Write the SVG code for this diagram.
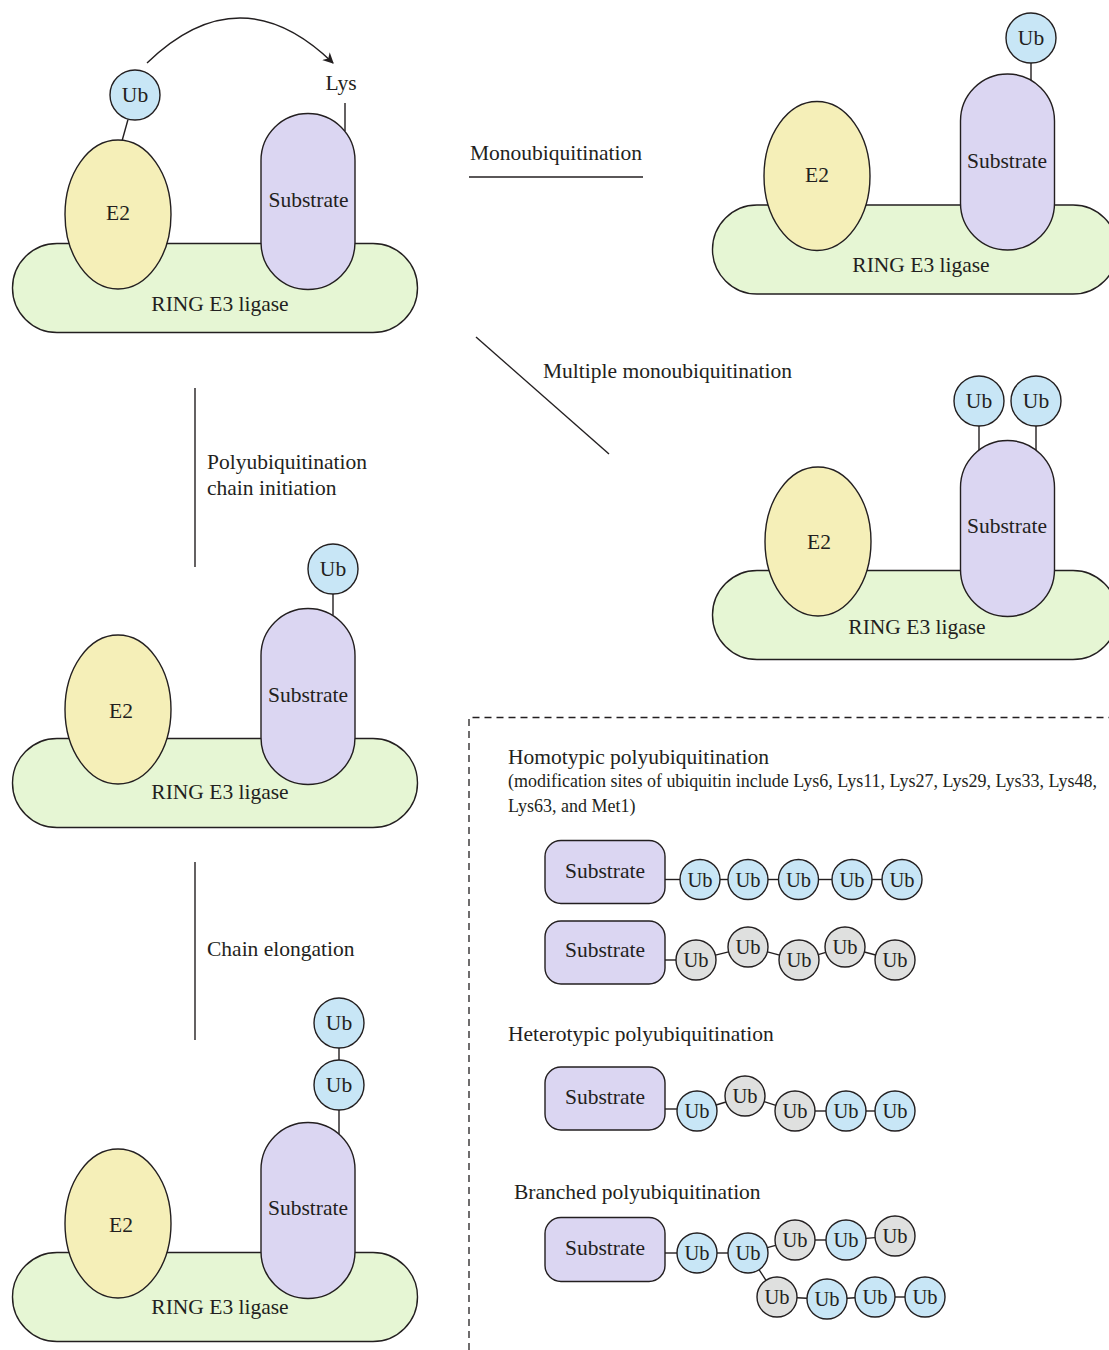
<svg xmlns="http://www.w3.org/2000/svg" width="1109" height="1350" viewBox="0 0 1109 1350">
<defs>
<style>
text{font-family:"Liberation Serif","Times New Roman",serif;fill:#231f20;}
.t{font-size:21.5px;}
.c{text-anchor:middle;}
.ring{fill:#e6f6d4;stroke:#231f20;stroke-width:1.4;}
.e2{fill:#f5efb8;stroke:#231f20;stroke-width:1.4;}
.sub{fill:#dbd6f2;stroke:#231f20;stroke-width:1.4;}
.ub{fill:#c8e6f6;stroke:#231f20;stroke-width:1.4;}
.ug{fill:#dfe0df;stroke:#231f20;stroke-width:1.4;}
.ln{stroke:#231f20;stroke-width:1.4;fill:none;}
.ut{font-size:20.5px;text-anchor:middle;}
</style>
<marker id="ah" viewBox="0 0 10 10" refX="9" refY="5" markerWidth="11" markerHeight="11" orient="auto" markerUnits="userSpaceOnUse">
<path d="M0,0 L10,5 L0,10 L3,5 Z" fill="#231f20"/>
</marker>
<g id="ringShape"><rect x="12.5" y="243.5" width="405" height="89" rx="44.5" class="ring"/></g>
<g id="e2Shape"><ellipse cx="118" cy="214.5" rx="53" ry="74.5" class="e2"/></g>
<g id="subShape"><rect x="261" y="113.5" width="94" height="176" rx="47" class="sub"/></g>
</defs>
<rect width="1109" height="1350" fill="#ffffff"/>

<!-- connectors -->
<g id="connectors">
<path class="ln" d="M147,63 Q240,-27 333,63" marker-end="url(#ah)"/>
<line class="ln" x1="128" y1="119.5" x2="122" y2="141"/>
<line class="ln" x1="345" y1="103" x2="345" y2="131"/>
<line class="ln" x1="1031" y1="63" x2="1031" y2="80"/>
<line class="ln" x1="979" y1="426" x2="979" y2="450"/>
<line class="ln" x1="1036" y1="426" x2="1036" y2="450"/>
<line class="ln" x1="333" y1="594" x2="333" y2="615"/>
<line class="ln" x1="339" y1="1048" x2="339" y2="1060"/>
<line class="ln" x1="339" y1="1110" x2="339" y2="1134"/>
<line class="ln" x1="469" y1="177" x2="643" y2="177"/>
<line class="ln" x1="476" y1="337" x2="609" y2="454"/>
<line class="ln" x1="195" y1="388" x2="195" y2="567"/>
<line class="ln" x1="195" y1="862" x2="195" y2="1040"/>
<!-- row 1 -->
<line class="ln" x1="665" y1="879.5" x2="680" y2="879.5"/>
<line class="ln" x1="720" y1="879.5" x2="728" y2="879.5"/>
<line class="ln" x1="768" y1="879.5" x2="778.5" y2="879.5"/>
<line class="ln" x1="818.5" y1="879.5" x2="832" y2="879.5"/>
<line class="ln" x1="872" y1="879.5" x2="882" y2="879.5"/>
<!-- row 2 -->
<line class="ln" x1="665" y1="960" x2="676" y2="960"/>
<line class="ln" x1="715.4" y1="955.1" x2="728.6" y2="951.9"/>
<line class="ln" x1="767.4" y1="951.9" x2="779.6" y2="955.1"/>
<line class="ln" x1="818.2" y1="954.6" x2="825.8" y2="952.4"/>
<line class="ln" x1="864.3" y1="952" x2="875.7" y2="955"/>
<!-- row 3 -->
<line class="ln" x1="665" y1="1109" x2="677" y2="1109"/>
<line class="ln" x1="716.1" y1="1105" x2="725.9" y2="1102"/>
<line class="ln" x1="764.2" y1="1101.7" x2="775.8" y2="1105.3"/>
<line class="ln" x1="815" y1="1111" x2="826" y2="1111"/>
<line class="ln" x1="866" y1="1111" x2="875" y2="1111"/>
<!-- row 4 -->
<line class="ln" x1="665" y1="1253" x2="677" y2="1253"/>
<line class="ln" x1="717" y1="1253" x2="728" y2="1253"/>
<line class="ln" x1="767.3" y1="1247.7" x2="775.7" y2="1245.3"/>
<line class="ln" x1="815" y1="1240" x2="826" y2="1240"/>
<line class="ln" x1="865.9" y1="1238.4" x2="875.1" y2="1237.6"/>
<line class="ln" x1="759" y1="1269.7" x2="766" y2="1280.3"/>
<line class="ln" x1="797" y1="1297.8" x2="807" y2="1298.2"/>
<line class="ln" x1="847" y1="1298.2" x2="855" y2="1297.8"/>
<line class="ln" x1="895" y1="1297" x2="905" y2="1297"/>
</g>

<!-- complex 1: top-left -->
<g id="ring1"><use href="#ringShape"/><text class="t c" x="220" y="311">RING E3 ligase</text></g>
<g id="e2-1"><use href="#e2Shape"/><text class="t c" x="118" y="220">E2</text></g>
<g id="sub1"><use href="#subShape"/><text class="t c" x="308.5" y="207">Substrate</text></g>
<g id="ub1"><circle cx="135" cy="95" r="25" class="ub"/><text class="t c" x="135" y="102">Ub</text></g>
<g id="lys"><text class="t c" x="341" y="90">Lys</text></g>

<!-- complex 2: top-right -->
<g id="ring2"><use href="#ringShape" transform="translate(700,-38.5)"/><text class="t c" x="921" y="272">RING E3 ligase</text></g>
<g id="e2-2"><use href="#e2Shape" transform="translate(699,-38.5)"/><text class="t c" x="817" y="182">E2</text></g>
<g id="sub2"><use href="#subShape" transform="translate(699.5,-39.5)"/><text class="t c" x="1007" y="168">Substrate</text></g>
<g id="ub2"><circle cx="1031" cy="38" r="25" class="ub"/><text class="t c" x="1031" y="45">Ub</text></g>

<!-- complex 3: middle-right -->
<g id="ring3"><use href="#ringShape" transform="translate(700,327)"/><text class="t c" x="917" y="634">RING E3 ligase</text></g>
<g id="e2-3"><use href="#e2Shape" transform="translate(700,327)"/><text class="t c" x="819" y="549">E2</text></g>
<g id="sub3"><use href="#subShape" transform="translate(699.5,327)"/><text class="t c" x="1007" y="533">Substrate</text></g>
<g id="ub3a"><circle cx="979" cy="401" r="25" class="ub"/><text class="t c" x="979" y="408">Ub</text></g>
<g id="ub3b"><circle cx="1036" cy="401" r="25" class="ub"/><text class="t c" x="1036" y="408">Ub</text></g>

<!-- complex 4: middle-left -->
<g id="ring4"><use href="#ringShape" transform="translate(0,495)"/><text class="t c" x="220" y="799">RING E3 ligase</text></g>
<g id="e2-4"><use href="#e2Shape" transform="translate(0,495)"/><text class="t c" x="121" y="718">E2</text></g>
<g id="sub4"><use href="#subShape" transform="translate(0,495)"/><text class="t c" x="308" y="702">Substrate</text></g>
<g id="ub4"><circle cx="333" cy="569" r="25" class="ub"/><text class="t c" x="333" y="576">Ub</text></g>

<!-- complex 5: bottom-left -->
<g id="ring5"><use href="#ringShape" transform="translate(0,1009)"/><text class="t c" x="220" y="1314">RING E3 ligase</text></g>
<g id="e2-5"><use href="#e2Shape" transform="translate(0,1009)"/><text class="t c" x="121" y="1232">E2</text></g>
<g id="sub5"><use href="#subShape" transform="translate(0,1009)"/><text class="t c" x="308" y="1215">Substrate</text></g>
<g id="ub5a"><circle cx="339" cy="1023" r="25" class="ub"/><text class="t c" x="339" y="1030">Ub</text></g>
<g id="ub5b"><circle cx="339" cy="1085" r="25" class="ub"/><text class="t c" x="339" y="1092">Ub</text></g>

<!-- labels -->
<g id="labels">
<text class="t" x="470" y="160">Monoubiquitination</text>
<text class="t" x="543" y="378">Multiple monoubiquitination</text>
<text class="t" x="207" y="469">Polyubiquitination</text>
<text class="t" x="207" y="495">chain initiation</text>
<text class="t" x="207" y="956">Chain elongation</text>
</g>

<!-- dashed panel -->
<g id="panel">
<path d="M469,1350 L469,717.5 L1109,717.5" fill="none" stroke="#231f20" stroke-width="1.3" stroke-dasharray="7,5"/>
<text class="t" x="508" y="764">Homotypic polyubiquitination</text>
<text x="508" y="787" style="font-size:18px" textLength="589" lengthAdjust="spacingAndGlyphs">(modification sites of ubiquitin include Lys6, Lys11, Lys27, Lys29, Lys33, Lys48,</text>
<text x="508" y="812" style="font-size:18px">Lys63, and Met1)</text>
<text class="t" x="508" y="1041">Heterotypic polyubiquitination</text>
<text class="t" x="514" y="1199">Branched polyubiquitination</text>
</g>

<!-- row 1 -->
<g id="row1">
<rect x="545" y="840.5" width="120" height="63" rx="16" class="sub"/><text class="t c" x="605" y="878">Substrate</text>
<circle cx="700" cy="879.5" r="20" class="ub"/><text class="ut" x="700" y="886.5">Ub</text>
<circle cx="748" cy="879.5" r="20" class="ub"/><text class="ut" x="748" y="886.5">Ub</text>
<circle cx="798.5" cy="879.5" r="20" class="ub"/><text class="ut" x="798.5" y="886.5">Ub</text>
<circle cx="852" cy="879.5" r="20" class="ub"/><text class="ut" x="852" y="886.5">Ub</text>
<circle cx="902" cy="879.5" r="20" class="ub"/><text class="ut" x="902" y="886.5">Ub</text>
</g>
<!-- row 2 -->
<g id="row2">
<rect x="545" y="921" width="120" height="63" rx="16" class="sub"/><text class="t c" x="605" y="957">Substrate</text>
<circle cx="696" cy="960" r="20" class="ug"/><text class="ut" x="696" y="967">Ub</text>
<circle cx="748" cy="947" r="20" class="ug"/><text class="ut" x="748" y="954">Ub</text>
<circle cx="799" cy="960" r="20" class="ug"/><text class="ut" x="799" y="967">Ub</text>
<circle cx="845" cy="947" r="20" class="ug"/><text class="ut" x="845" y="954">Ub</text>
<circle cx="895" cy="960" r="20" class="ug"/><text class="ut" x="895" y="967">Ub</text>
</g>
<!-- row 3 -->
<g id="row3">
<rect x="545" y="1067" width="120" height="63" rx="16" class="sub"/><text class="t c" x="605" y="1104">Substrate</text>
<circle cx="697" cy="1111" r="20" class="ub"/><text class="ut" x="697" y="1118">Ub</text>
<circle cx="745" cy="1096" r="20" class="ug"/><text class="ut" x="745" y="1103">Ub</text>
<circle cx="795" cy="1111" r="20" class="ug"/><text class="ut" x="795" y="1118">Ub</text>
<circle cx="846" cy="1111" r="20" class="ub"/><text class="ut" x="846" y="1118">Ub</text>
<circle cx="895" cy="1111" r="20" class="ub"/><text class="ut" x="895" y="1118">Ub</text>
</g>
<!-- row 4 -->
<g id="row4">
<rect x="545" y="1217.5" width="120" height="64" rx="16" class="sub"/><text class="t c" x="605" y="1255">Substrate</text>
<circle cx="697" cy="1253" r="20" class="ub"/><text class="ut" x="697" y="1260">Ub</text>
<circle cx="748" cy="1253" r="20" class="ub"/><text class="ut" x="748" y="1260">Ub</text>
<circle cx="795" cy="1240" r="20" class="ug"/><text class="ut" x="795" y="1247">Ub</text>
<circle cx="846" cy="1240" r="20" class="ub"/><text class="ut" x="846" y="1247">Ub</text>
<circle cx="895" cy="1236" r="20" class="ug"/><text class="ut" x="895" y="1243">Ub</text>
<circle cx="777" cy="1297" r="20" class="ug"/><text class="ut" x="777" y="1304">Ub</text>
<circle cx="827" cy="1299" r="20" class="ub"/><text class="ut" x="827" y="1306">Ub</text>
<circle cx="875" cy="1297" r="20" class="ub"/><text class="ut" x="875" y="1304">Ub</text>
<circle cx="925" cy="1297" r="20" class="ub"/><text class="ut" x="925" y="1304">Ub</text>
</g>
</svg>
